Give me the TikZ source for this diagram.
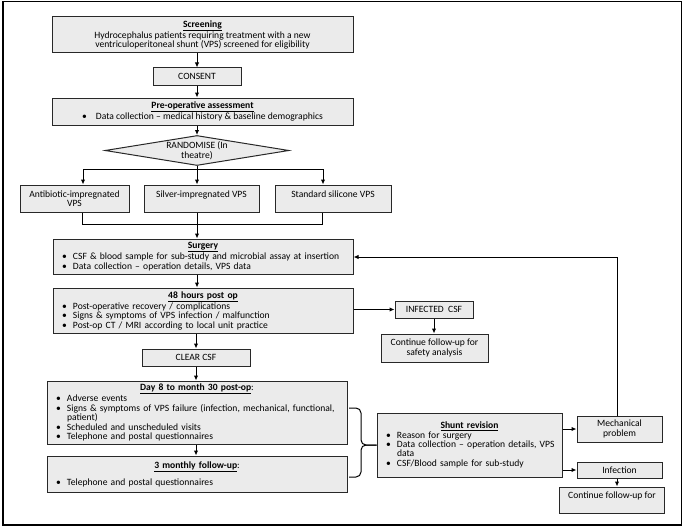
\documentclass[tikz,border=0pt]{standalone}
\usepackage{fontspec}
\setmainfont{Carlito}
\usetikzlibrary{shapes.geometric,arrows.meta}
\definecolor{boxgrey}{RGB}{235,235,235}
\definecolor{edgegrey}{RGB}{40,40,40}
\newcommand{\ttl}[1]{\underline{\textbf{#1}}}
\newcommand{\itm}[1]{\par\hangindent=11pt\hangafter=1\noindent\hbox to 11pt{\textbullet\hss}#1}

\begin{document}
\begin{tikzpicture}[x=1pt, y=-1pt,
        font=\fontsize{9.6}{9.4}\selectfont,
        box/.style={draw=edgegrey, fill=boxgrey, line width=1pt, inner xsep=9pt, inner ysep=2pt, align=center},
        listbox/.style={box, align=left},
        arr/.style={line width=1pt, -{Latex[length=5pt,width=4.5pt]}},
        line/.style={line width=1pt}]
        % Frame
        \useasboundingbox (0,0) rectangle (685,527);
        \draw[line width=1.2pt] (3,1.5) rectangle (681.5,525);
        % Main column
        \node[box, minimum width=301, minimum height=36] (screen) at (202.5,35) {\ttl{Screening}\\Hydrocephalus patients requiring treatment with a new\\ventriculoperitoneal shunt (VPS) screened for eligibility};
        \node[box, minimum width=88, minimum height=17, inner ysep=1pt] (consent) at (197,76.5) {CONSENT};
        \node[box, minimum width=301, minimum height=27] (preop) at (202.5,111.5) {\ttl{Pre-operative assessment}\\\textbullet\hspace{9pt}Data collection -- medical history \& baseline demographics};
        \node[box, diamond, aspect=6.3, inner sep=0pt, minimum width=184, minimum height=30] (rand) at (197,150.5) {RANDOMISE (In\\theatre)};
        % Three arms
        \node[box, minimum width=109, minimum height=27] (anti) at (74.5,198.5) {Antibiotic-impregnated\\VPS};
        \node[box, minimum width=115, minimum height=27] (silver) at (201.5,198.5) {Silver-impregnated VPS\\\mbox{}};
        \node[box, minimum width=116, minimum height=27] (standard) at (333,198.5) {Standard silicone VPS\\\mbox{}};
        % Surgery and follow-up
        \node[listbox, text width=282, minimum height=35] (surgery) at (203,256.5) {\centerline{\ttl{Surgery}}\itm{CSF \& blood sample for sub-study and microbial assay at insertion}\itm{Data collection -- operation details, VPS data}};
        \node[listbox, text width=282, minimum height=45] (post48) at (203,310.5) {\centerline{\ttl{48 hours post op}}\itm{Post-operative recovery / complications}\itm{Signs \& symptoms of VPS infection / malfunction}\itm{Post-op CT / MRI according to local unit practice}};
        \node[box, minimum width=108, minimum height=17, inner ysep=1pt] (clear) at (196,357.5) {CLEAR CSF};
        \node[listbox, text width=282, minimum height=63] (day8) at (197,412.5) {\centerline{\ttl{Day 8 to month 30 post-op}:}\itm{Adverse events}\itm{Signs \& symptoms of VPS failure (infection, mechanical, functional,\newline patient)}\itm{Scheduled and unscheduled visits}\itm{Telephone and postal questionnaires}};
        \node[listbox, text width=282, minimum height=36] (month3) at (197,474) {\centerline{\ttl{3 monthly follow-up}:}\vspace{6pt}\itm{Telephone and postal questionnaires}};
        % Right side
        \node[box, minimum width=78, minimum height=17, inner ysep=1pt] (infected) at (434,309.5) {INFECTED\ \ CSF};
        \node[box, minimum width=107, minimum height=28] (safety) at (434.5,348) {Continue follow-up for\\safety analysis};
        \node[listbox, text width=167, minimum height=64] (revision) at (469.5,445) {\centerline{\ttl{Shunt revision}}\itm{Reason for surgery}\itm{\mbox{Data collection -- operation details, VPS}\newline data}\itm{CSF/Blood sample for sub-study}\par\vspace{12pt}};
        \node[box, minimum width=85, minimum height=26] (mech) at (619.5,429) {Mechanical\\problem};
        \node[box, minimum width=85, minimum height=16, inner ysep=1pt] (infection) at (619.5,470) {Infection};
        \node[box, minimum width=100, minimum height=26] (contfu) at (612,500) {Continue follow-up for\\\mbox{}};
        % Free ends
        \coordinate (split) at (197,169);
        \coordinate (splitL) at (83,169);
        \coordinate (splitR) at (323,169);
        \coordinate (join) at (197,224);
        \coordinate (joinL) at (82,224);
        \coordinate (joinR) at (322,224);
        \coordinate (back) at (617,257);
        \coordinate (braceTop) at (349,408);
        \coordinate (braceBot) at (349,477);
        % Draw spine
        \draw[arr] (screen.south -| consent.north) -- (consent.north);
        \draw[arr] (consent.south) -- (preop.north -| consent.south);
        \draw[arr] (preop.south -| rand.north) -- (rand.north);
        % Draw randomisation
        \draw[line] (rand.south) -- (split);
        \draw[line] (splitL) -- (splitR);
        \foreach \c/\n in {splitL/anti, split/silver, splitR/standard} {
            \draw[arr] (\c) -- (\c |- \n.north);
        }
        \draw[line] (anti.south -| joinL) -- (joinL) -- (joinR) -- (standard.south -| joinR);
        \draw[arr] (silver.south -| join) -- (surgery.north -| join);
        \draw[arr] (surgery.south -| join) -- (post48.north -| join);
        \draw[arr] (post48.south -| clear.north) -- (clear.north);
        \draw[arr] (clear.south) -- (day8.north -| clear.south);
        \draw[arr] (day8.south -| clear.south) -- (month3.north -| clear.south);
        % Draw infected branch
        \draw[arr] (post48.east |- infected.west) -- (infected.west);
        \draw[arr] (infected.south) -- (safety.north -| infected.south);
        % Draw brace
        \draw[line, rounded corners=5pt] (braceTop) -- (361,408) -- (361,445) -- (revision.west);
        \draw[line, rounded corners=5pt] (braceBot) -- (361,477) -- (361,445) -- (revision.west);
        % Draw revision outcomes
        \draw[arr] (revision.east |- mech.west) -- (mech.west);
        \draw[arr] (revision.east |- infection.west) -- (infection.west);
        \draw[arr] (infection.south -| back) -- (contfu.north -| back);
        \draw[arr] (mech.north -| back) -- (back) -- (surgery.east |- back);
\end{tikzpicture}
\end{document}
